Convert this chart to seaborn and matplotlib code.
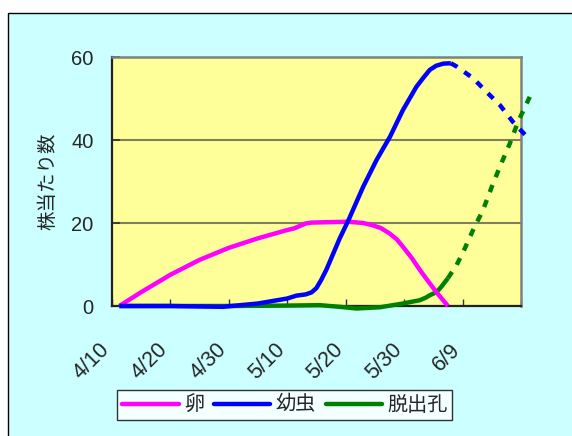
import matplotlib
matplotlib.use("Agg")
import matplotlib.pyplot as plt
from matplotlib.patches import Rectangle
from matplotlib.lines import Line2D
from matplotlib.transforms import ScaledTranslation
import seaborn as sns
import pandas as pd

# Days counted from 4/10
tick_days = [0, 10, 20, 30, 40, 50, 60, 70]
tick_labels = ["4/10", "4/20", "4/30", "5/10", "5/20", "5/30", "6/9", ""]

egg_day = [1.3, 5, 10, 15, 20, 25, 30, 31.2, 32.2, 33.2, 34.2, 37, 40.5, 43,
           44.5, 46, 47.5, 48.8, 49.8, 51.3, 52.7, 54, 55.5, 57.5]
egg_val = [0, 3.3, 7.5, 11.1, 14.0, 16.3, 18.3, 18.7, 19.3, 19.9, 20.1, 20.2, 20.3, 20.0,
           19.5, 18.8, 17.5, 16.0, 14.3, 11.6, 8.7, 6.2, 3.4, 0]

larva_day = [1.3, 10, 19, 25, 30, 31.6, 33.2, 34.2, 35, 35.8, 36.7, 39, 40.5, 43, 45.3,
             47.6, 49.8, 52.1, 53.3, 54.4, 55.5, 56.7, 58]
larva_val = [0, 0, -0.2, 0.6, 1.8, 2.5, 2.8, 3.3, 4.3, 6.2, 8.7, 16.3, 20.7, 28.7, 35.2,
             40.8, 47.2, 52.8, 55.0, 56.9, 57.9, 58.4, 58.5]
larva_fc_day = [58, 59, 61.8, 64.1, 66.4, 68.6, 71.2]
larva_fc_val = [58.5, 57.7, 54.9, 51.6, 48.4, 44.4, 40.5]

hole_day = [1.3, 10, 20, 30, 35.6, 39, 41.9, 45.9, 49.8, 52.7, 53.7, 54.4, 55.5, 56.3, 57.5]
hole_val = [0, 0, 0, 0.1, 0.2, -0.2, -0.6, -0.3, 0.6, 1.4, 2.0, 2.6, 3.3, 4.5, 6.7]
hole_fc_day = [57.5, 59, 60.4, 61.8, 63.5, 65, 66.4, 68.1, 69.5, 71.5]
hole_fc_val = [6.7, 9.9, 13.9, 18.3, 23.1, 28.7, 33.6, 39.2, 44.4, 50.4]

series = ["卵", "幼虫", "脱出孔"]
colors = {"卵": "#FF00FF", "幼虫": "#0000FF", "脱出孔": "#008000"}
layer = {"脱出孔": 3, "卵": 4, "幼虫": 5}

sns.set_style("white")
plt.rcParams["font.family"] = ["Liberation Sans", "Noto Sans CJK JP", "DejaVu Sans"]

fig = plt.figure(figsize=(5.72, 4.36), dpi=100)
fig.patch.set_facecolor("white")
fig.add_artist(Rectangle((8 / 572, -0.02), 1.0, 1 - 13 / 436 + 0.02,
                         transform=fig.transFigure, facecolor="#CCFFFF",
                         edgecolor="black", lw=1.0, zorder=-5))

ax = fig.add_axes([111.7 / 572, 1 - 306 / 436, (521 - 111.7) / 572, (306 - 57) / 436])
ax.set_facecolor("#FFFF99")

observed = pd.concat([
    pd.DataFrame({"day": egg_day, "val": egg_val, "s": "卵"}),
    pd.DataFrame({"day": larva_day, "val": larva_val, "s": "幼虫"}),
    pd.DataFrame({"day": hole_day, "val": hole_val, "s": "脱出孔"}),
])
forecast = pd.concat([
    pd.DataFrame({"day": larva_fc_day, "val": larva_fc_val, "s": "幼虫"}),
    pd.DataFrame({"day": hole_fc_day, "val": hole_fc_val, "s": "脱出孔"}),
])

lw = 3.2
for name in ["脱出孔", "卵", "幼虫"]:
    d = observed[observed.s == name]
    sns.lineplot(data=d, x="day", y="val", ax=ax, color=colors[name], lw=lw,
                 sort=False, estimator=None, legend=False,
                 solid_capstyle="butt", solid_joinstyle="round",
                 clip_on=False, zorder=layer[name])
for name in ["幼虫", "脱出孔"]:
    d = forecast[forecast.s == name]
    sns.lineplot(data=d, x="day", y="val", ax=ax, color=colors[name], lw=lw,
                 sort=False, estimator=None, legend=False,
                 linestyle=(0, (1.7, 1.9)), dash_capstyle="butt",
                 clip_on=False, zorder=layer[name])

ax.set_xlim(0, 70)
ax.set_ylim(0, 60)
ax.set_yticks([0, 20, 40, 60])
ax.set_xticks(tick_days)
ax.tick_params(axis="y", labelsize=14.5, direction="in", length=6, width=1.2,
               color="#333333", pad=13, left=True)
ax.tick_params(axis="x", direction="in", length=5, width=1.0, color="#333333",
               pad=24, bottom=True)
ax.set_xticklabels(tick_labels, rotation=45, ha="right", va="top",
                   rotation_mode="anchor", fontsize=15.5)
# nudge the slanted date labels to the left of their ticks
shift = ScaledTranslation(-13 / 100, 0, fig.dpi_scale_trans)
for tick in ax.xaxis.get_major_ticks():
    tick.label1.set_transform(tick.label1.get_transform() + shift)

ax.grid(axis="y", color="#7F7F60", lw=1.5)
ax.grid(axis="x", visible=False)
ax.set_xlabel("")
ax.set_ylabel("株当たり数", fontsize=14, labelpad=10)

for side in ["top", "right"]:
    ax.spines[side].set_color("#808080")
    ax.spines[side].set_linewidth(1.8)
for side in ["left", "bottom"]:
    ax.spines[side].set_color("#222222")
    ax.spines[side].set_linewidth(1.6)

handles = [Line2D([0], [0], color=colors[n], lw=lw, solid_capstyle="round") for n in series]
leg = fig.legend(handles, series, loc="center", bbox_to_anchor=(0.498, 0.071),
                 ncol=3, frameon=True, fancybox=False, fontsize=14.5,
                 handlelength=2.8, handletextpad=0.25, columnspacing=0.5,
                 borderpad=0.25, borderaxespad=0)
leg.get_frame().set_edgecolor("black")
leg.get_frame().set_linewidth(1.0)
leg.get_frame().set_facecolor("white")

fig.savefig("out.png", dpi=100)
